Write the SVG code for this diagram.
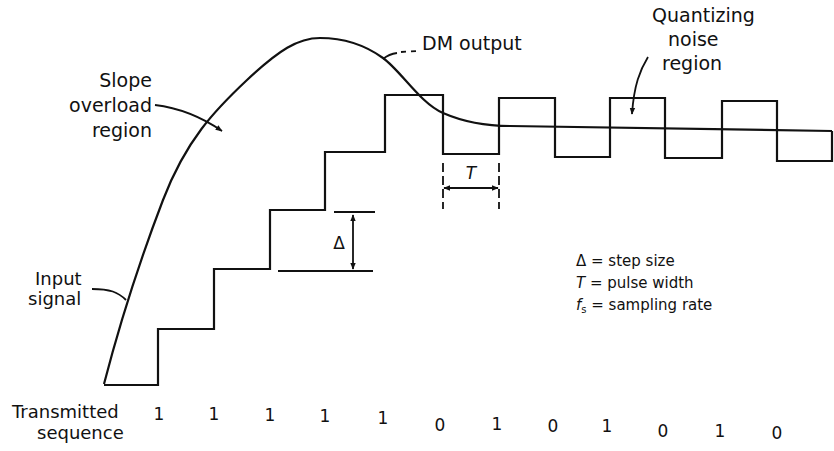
<svg xmlns="http://www.w3.org/2000/svg" width="834" height="451" viewBox="0 0 834 451">
  <style>
    .wave { fill: none; stroke: #111; stroke-width: 2.2; stroke-linejoin: miter; }
    .thin { fill: none; stroke: #111; stroke-width: 1.8; }
    .dash { fill: none; stroke: #111; stroke-width: 1.8; stroke-dasharray: 9 4; }
    text { font-family: "DejaVu Sans", "Liberation Sans", sans-serif; fill: #111; }
    .lbl { font-size: 19px; }
    .small { font-size: 18px; }
    .leg { font-size: 15px; }
    .dig { font-size: 17px; text-anchor: middle; }
  </style>
  <defs>
    <marker id="arrow" viewBox="0 0 10 10" refX="9" refY="5" markerWidth="7" markerHeight="7" markerUnits="userSpaceOnUse" orient="auto-start-reverse">
      <path d="M0,1 L10,5 L0,9 Z" fill="#111"/>
    </marker>
  </defs>
  <rect width="834" height="451" fill="#fff"/>

  <!-- staircase approximation (delta modulator output) -->
  <g id="dm-output">
    <path class="wave" d="M104,385 H158 V329 H214 V269 H270 V210 H325 V152 H385 V95 H443 V154 H499 V98 H555 V157 H610 V98 H665 V158 H722 V101 H777 V161 H832 V131"/>
  </g>

  <!-- analog input signal -->
  <g id="input-signal">
    <path class="wave" d="M104,384 C118,330 140,260 163,200 S215,110 247,80 S298,38 320,38 S365,45 383,58 S420,103 443,113 S490,126 510,126 L832,131"/>
  </g>

  <!-- step size dimension -->
  <g id="step-size">
    <line class="thin" x1="334" y1="212" x2="375" y2="212"/>
    <line class="thin" x1="278" y1="271" x2="373" y2="271"/>
    <line class="thin" x1="353" y1="215" x2="353" y2="269" marker-start="url(#arrow)" marker-end="url(#arrow)"/>
    <text x="339" y="249" font-size="17" text-anchor="middle">Δ</text>
  </g>

  <!-- pulse width dimension -->
  <g id="pulse-width">
    <line class="dash" x1="443" y1="163" x2="443" y2="209"/>
    <line class="dash" x1="499" y1="163" x2="499" y2="209"/>
    <line class="thin" x1="444" y1="188" x2="498" y2="188" marker-start="url(#arrow)" marker-end="url(#arrow)"/>
    <text x="471" y="179" font-size="17" font-style="italic" text-anchor="middle">T</text>
  </g>

  <!-- callout leaders -->
  <g id="connectors">
    <path class="thin" d="M155,105 C180,108 203,118 222,131" marker-end="url(#arrow)"/>
    <path class="thin" d="M383,59 Q389,54 397,53"/>
    <path class="thin" d="M401,52 L419,51" stroke-dasharray="5 5"/>
    <path class="thin" d="M648,57 C640,70 634,85 632,114" marker-end="url(#arrow)"/>
    <path class="thin" d="M92,289 C110,289 118,292 126,300"/>
  </g>

  <g id="label-slope">
    <text class="lbl" x="152" y="87" text-anchor="end">Slope</text>
    <text class="lbl" x="152" y="112" text-anchor="end">overload</text>
    <text class="lbl" x="152" y="137" text-anchor="end">region</text>
  </g>
  <g id="label-dm">
    <text class="lbl" x="422" y="50">DM output</text>
  </g>
  <g id="label-noise">
    <text class="lbl" x="652" y="22">Quantizing</text>
    <text class="lbl" x="668" y="46">noise</text>
    <text class="lbl" x="662" y="70">region</text>
  </g>
  <g id="label-input">
    <text class="small" x="35" y="285">Input</text>
    <text class="small" x="28" y="305">signal</text>
  </g>

  <!-- legend -->
  <g id="legend">
    <text class="leg" x="576" y="266">Δ = step size</text>
    <text class="leg" x="576" y="288"><tspan font-style="italic">T</tspan> = pulse width</text>
    <text class="leg" x="576" y="310"><tspan font-style="italic">f</tspan><tspan font-size="10" dy="3">s</tspan><tspan dy="-3"> = sampling rate</tspan></text>
  </g>

  <!-- transmitted bit sequence -->
  <g id="sequence">
    <text class="small" x="12" y="418">Transmitted</text>
    <text class="small" x="37" y="439">sequence</text>
    <text class="dig" x="159" y="420">1</text>
    <text class="dig" x="214" y="420">1</text>
    <text class="dig" x="270" y="421">1</text>
    <text class="dig" x="325" y="422">1</text>
    <text class="dig" x="383" y="424">1</text>
    <text class="dig" x="440" y="431">0</text>
    <text class="dig" x="497" y="430">1</text>
    <text class="dig" x="553" y="432">0</text>
    <text class="dig" x="607" y="432">1</text>
    <text class="dig" x="663" y="437">0</text>
    <text class="dig" x="720" y="437">1</text>
    <text class="dig" x="777" y="439">0</text>
  </g>
</svg>
